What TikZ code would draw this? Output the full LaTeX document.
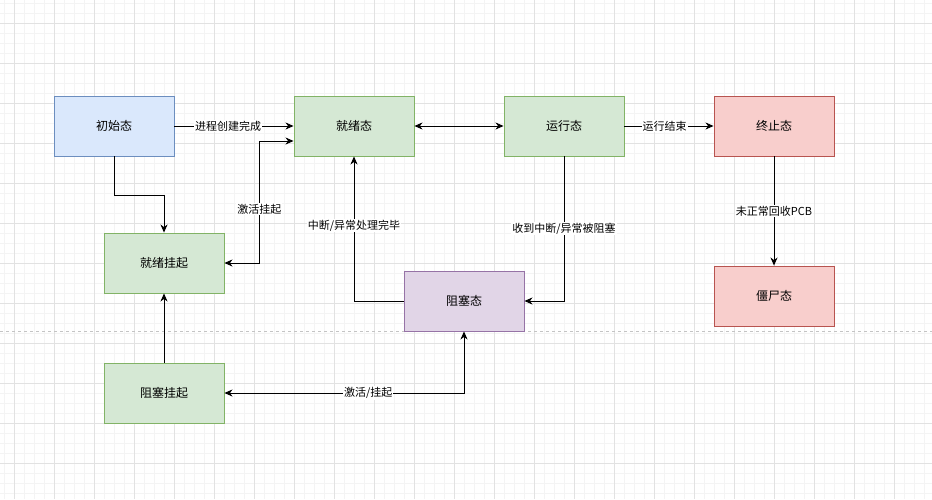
\documentclass[tikz,border=0pt]{standalone}
\usepackage{fontspec}
\newfontfamily\cjk{Noto Sans CJK SC}
\usetikzlibrary{arrows.meta}
\definecolor{bluefill}{HTML}{DAE8FC}
\definecolor{bluedraw}{HTML}{6C8EBF}
\definecolor{greenfill}{HTML}{D5E8D4}
\definecolor{greendraw}{HTML}{82B366}
\definecolor{redfill}{HTML}{F8CECC}
\definecolor{reddraw}{HTML}{B85450}
\definecolor{purplefill}{HTML}{E1D5E7}
\definecolor{purpledraw}{HTML}{9673A6}
\definecolor{gridmajor}{HTML}{E2E2E2}
\definecolor{gridminor}{HTML}{F4F4F4}
\definecolor{sepline}{HTML}{C4C4C4}
\tikzset{
  statebox/.style={rectangle, minimum width=120pt, minimum height=60pt, line width=0.9pt, font=\cjk\fontsize{12pt}{14pt}\selectfont, inner sep=0pt},
  bluebox/.style={statebox, fill=bluefill, draw=bluedraw},
  greenbox/.style={statebox, fill=greenfill, draw=greendraw},
  redbox/.style={statebox, fill=redfill, draw=reddraw},
  purplebox/.style={statebox, fill=purplefill, draw=purpledraw},
  conn/.style={line width=1pt, draw=black, -{Stealth[length=8pt,width=7pt,inset=2.5pt]}},
  bconn/.style={line width=1pt, draw=black, {Stealth[length=8pt,width=7pt,inset=2.5pt]}-{Stealth[length=8pt,width=7pt,inset=2.5pt]}},
  lbl/.style={fill=white, inner sep=1pt, font=\cjk\fontsize{11pt}{13pt}\selectfont}
}
\begin{document}
\begin{tikzpicture}[x=1pt,y=-1pt]
\useasboundingbox (0,0) rectangle (932,499);
\fill[white] (0,0) rectangle (932,499);
% grid
\foreach \x in {4.5,24.5,...,932} {\draw[gridminor, line width=0.8pt] (\x,0) -- (\x,499);}
\foreach \x in {14.5,34.5,...,932} {\draw[gridminor, line width=0.8pt] (\x,0) -- (\x,499);}
\foreach \y in {3,13,...,499} {\draw[gridminor, line width=0.8pt] (0,\y) -- (932,\y);}
\foreach \x in {14.5,54.5,...,932} {\draw[gridmajor, line width=0.8pt] (\x,0) -- (\x,499);}
\foreach \y in {23,63,...,499} {\draw[gridmajor, line width=0.8pt] (0,\y) -- (932,\y);}
% separator
\coordinate (sepL) at (0,331);
\coordinate (sepR) at (932,331);
\draw[sepline, line width=0.8pt, dash pattern=on 3pt off 3pt] (sepL) -- (sepR);
% nodes
\node[bluebox] (init) at (114,126) {初始态};
\node[greenbox] (ready) at (354,126) {就绪态};
\node[greenbox] (run) at (564,126) {运行态};
\node[redbox] (term) at (774,126) {终止态};
\node[redbox] (zombie) at (774,296) {僵尸态};
\node[greenbox] (readysus) at (164,263) {就绪挂起};
\node[purplebox] (block) at (464,301) {阻塞态};
\node[greenbox] (blocksus) at (164,393) {阻塞挂起};
% connectors
\draw[conn] (init) -- node[lbl, pos=0.45] {进程创建完成} (ready);
\draw[conn] (init.south) -- ++(0,39) -| (readysus.north);
\draw[bconn] (readysus.east) -- ++(35,0) |- node[lbl, pos=0.22] {激活挂起} ([yshift=-15pt]ready.west);
\draw[bconn] (ready) -- (run);
\draw[conn] (run) -- node[lbl, pos=0.45] {运行结束} (term);
\draw[conn] (term) -- node[lbl] {未正常回收PCB} (zombie);
\draw[conn] (run.south) |- node[lbl, pos=0.25] {收到中断/异常被阻塞} (block.east);
\draw[conn] (block.west) -| node[lbl, pos=0.76] {中断/异常处理完毕} (ready.south);
\draw[conn] (blocksus) -- (readysus);
\draw[bconn] (blocksus.east) -| node[lbl, pos=0.30] {激活/挂起} (block.south);
\end{tikzpicture}
\end{document}
